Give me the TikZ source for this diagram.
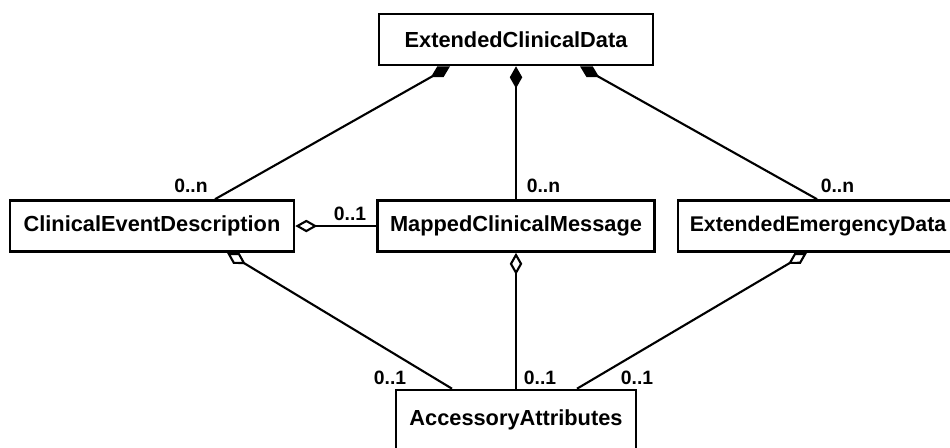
\documentclass[tikz,border=0pt]{standalone}
\usepackage{fontspec}
\setmainfont{Liberation Sans}
\usetikzlibrary{arrows.meta,positioning,calc}

\begin{document}
\begin{tikzpicture}[every node/.style={font=\bfseries\fontsize{12.4}{14}\selectfont},
    cls/.style={draw,line width=1.5pt,minimum height=10.2mm,inner sep=0pt},
    mult/.style={font=\bfseries\fontsize{11}{12}\selectfont,inner sep=0pt},
    comp/.style={{Diamond[length=4.4mm,width=2.5mm]}-,line width=1.2pt},
    aggr/.style={{Diamond[open,length=4.4mm,width=2.5mm]}-,line width=1.2pt}]
    \useasboundingbox (0,0) rectangle (19,-8.94);
    \clip (0,0) rectangle (19,-8.94);
    % classes
    \node[cls,minimum width=54.8mm] (ecd) at (10.32,-0.79) {ExtendedClinicalData};
    \node[cls,minimum width=56.8mm] (ced) at (3.04,-4.52) {ClinicalEventDescription};
    \node[cls,minimum width=55.4mm] (mcm) at (10.32,-4.52) {MappedClinicalMessage};
    \node[cls,minimum width=56mm,font=\bfseries\fontsize{12.1}{14}\selectfont] (eed) at (16.36,-4.52) {ExtendedEmergencyData};
    \node[cls,minimum width=48mm,minimum height=12mm] (aa) at (10.32,-8.40) {AccessoryAttributes};
    % composition
    \draw[comp] ([xshift=-13.2mm]ecd.south) -- ([xshift=12.6mm]ced.north);
    \draw[comp] (ecd) -- (mcm);
    \draw[comp] ([xshift=12.8mm]ecd.south) -- ([xshift=-0.2mm]eed.north);
    % aggregation
    \draw[aggr] (ced) -- (mcm);
    \draw[aggr] ([xshift=15mm]ced.south) -- ([xshift=-12.8mm]aa.north);
    \draw[aggr] (mcm) -- (aa);
    \draw[aggr] ([xshift=-2.2mm]eed.south) -- ([xshift=12.2mm]aa.north);
    % multiplicities
    \node[mult] (m1) at (3.82,-3.72) {0..n};
    \node[mult] (m2) at (10.87,-3.72) {0..n};
    \node[mult] (m3) at (16.75,-3.72) {0..n};
    \node[mult] (m4) at (7.00,-4.28) {0..1};
    \node[mult] (m5) at (7.80,-7.56) {0..1};
    \node[mult] (m6) at (10.80,-7.56) {0..1};
    \node[mult] (m7) at (12.74,-7.56) {0..1};
\end{tikzpicture}
\end{document}
